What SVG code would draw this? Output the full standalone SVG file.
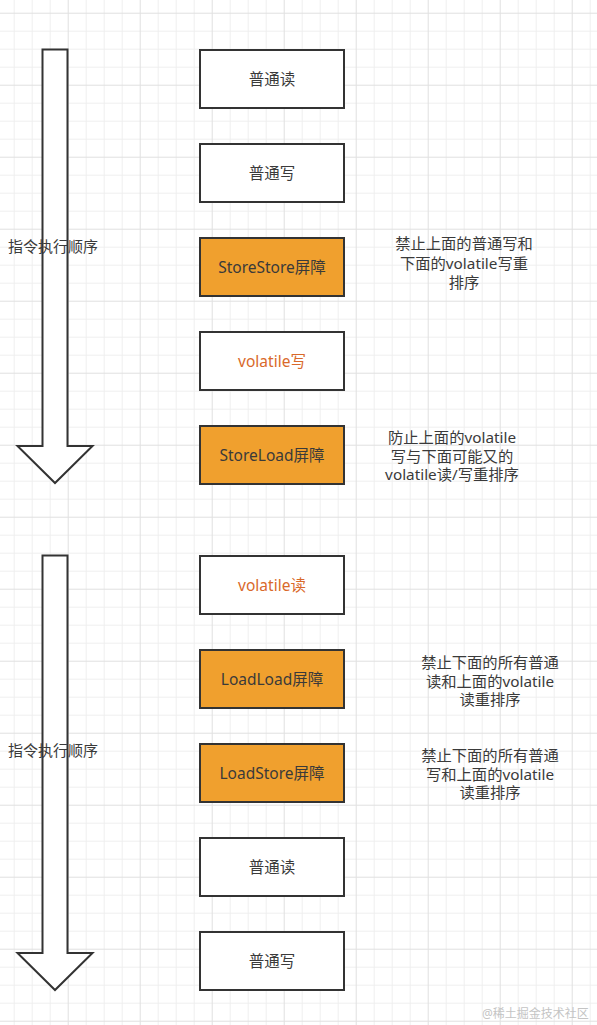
<svg xmlns="http://www.w3.org/2000/svg" width="597" height="1025" viewBox="0 0 597 1025">
<defs>
<pattern id="grid" patternUnits="userSpaceOnUse" x="-4.3" y="12.7" width="72" height="72">
<path d="M18.5 0V72M36.5 0V72M54.5 0V72M0 18.5H72M0 36.5H72M0 54.5H72" stroke="#efefef" stroke-width="1" fill="none"/>
<path d="M0.5 0V72M0 0.5H72" stroke="#e0e0e0" stroke-width="1" fill="none"/>
</pattern>
<style>
text{font-family:"Noto Sans","Noto Sans CJK SC",sans-serif;font-size:15px;fill:#3a3a3a;dominant-baseline:central}
.box rect{fill:#fff;stroke:#333;stroke-width:2}
.box.bar rect{fill:#F0A02E}
.box text{text-anchor:middle;font-size:15.5px}
.box text.vol{fill:#D9692A}
.note text{text-anchor:middle;font-size:15.3px}
.arrow{fill:#fff;stroke:#333;stroke-width:2;stroke-linejoin:miter}
.wm{font-size:12px;fill:#c4c4c4}
</style>
</defs>
<rect width="597" height="1025" fill="#fff"/>
<rect width="597" height="1025" fill="url(#grid)"/>

<g id="arrow1"><path class="arrow" d="M42.5 49.5H67.5V446H92.5L55 483L17.5 446H42.5Z"/></g>
<g id="arrow2"><path class="arrow" d="M42.5 555.5H67.5V953H92.5L55 990L17.5 953H42.5Z"/></g>

<g id="label1"><text x="8" y="245.5">指令执行顺序</text></g>
<g id="label2"><text x="8" y="750">指令执行顺序</text></g>

<g id="n1" class="box"><rect x="200" y="50" width="144" height="58"/><text x="272" y="79">普通读</text></g>
<g id="n2" class="box"><rect x="200" y="144" width="144" height="58"/><text x="272" y="173">普通写</text></g>
<g id="n3" class="box bar"><rect x="200" y="238" width="144" height="58"/><text x="272" y="267">StoreStore屏障</text></g>
<g id="n4" class="box"><rect x="200" y="332" width="144" height="58"/><text class="vol" x="272" y="361">volatile写</text></g>
<g id="n5" class="box bar"><rect x="200" y="426" width="144" height="58"/><text x="272" y="455">StoreLoad屏障</text></g>
<g id="n6" class="box"><rect x="200" y="556" width="144" height="58"/><text class="vol" x="272" y="585">volatile读</text></g>
<g id="n7" class="box bar"><rect x="200" y="650" width="144" height="58"/><text x="272" y="679">LoadLoad屏障</text></g>
<g id="n8" class="box bar"><rect x="200" y="744" width="144" height="58"/><text x="272" y="773">LoadStore屏障</text></g>
<g id="n9" class="box"><rect x="200" y="838" width="144" height="58"/><text x="272" y="867">普通读</text></g>
<g id="n10" class="box"><rect x="200" y="932" width="144" height="58"/><text x="272" y="961">普通写</text></g>

<g id="note1" class="note"><text x="464" y="243">禁止上面的普通写和</text><text x="464" y="263">下面的volatile写重</text><text x="464" y="282">排序</text></g>
<g id="note2" class="note"><text x="452" y="437">防止上面的volatile</text><text x="452" y="455.5">写与下面可能又的</text><text x="452" y="474">volatile读/写重排序</text></g>
<g id="note3" class="note"><text x="490" y="662">禁止下面的所有普通</text><text x="490" y="680.5">读和上面的volatile</text><text x="490" y="699">读重排序</text></g>
<g id="note4" class="note"><text x="490" y="755">禁止下面的所有普通</text><text x="490" y="773.5">写和上面的volatile</text><text x="490" y="792">读重排序</text></g>

<text class="wm" x="482" y="1013">@稀土掘金技术社区</text>
</svg>
